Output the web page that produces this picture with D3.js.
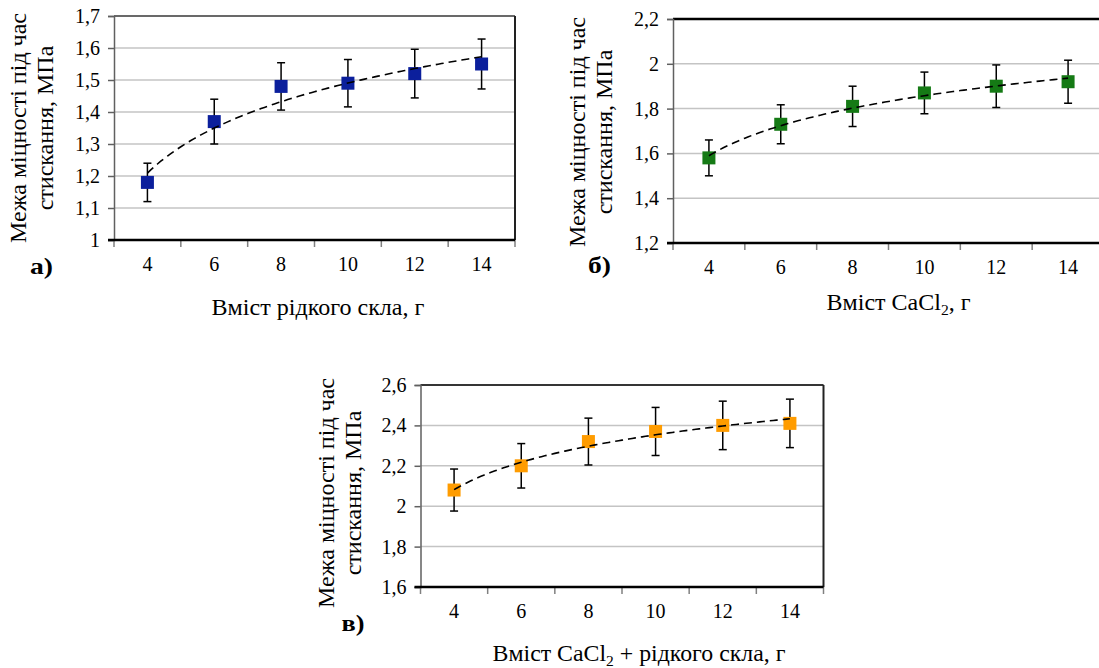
<!DOCTYPE html>
<html>
<head>
<meta charset="utf-8">
<script src="https://cdn.jsdelivr.net/npm/d3@7"></script>
<style>
  body { margin: 0; background: #fff; }
</style>
</head>
<body>
<div id="chart"></div>
<script>
// content of additive, g
const categories = [4, 6, 8, 10, 12, 14];

// compressive strength, MPa
const valuesA = [1.18, 1.37, 1.48, 1.49, 1.52, 1.55];
const errorsA = [0.06, 0.07, 0.074, 0.074, 0.076, 0.078];
const valuesB = [1.58, 1.73, 1.81, 1.87, 1.90, 1.92];
const errorsB = [0.08, 0.087, 0.09, 0.093, 0.095, 0.096];
const valuesC = [2.08, 2.20, 2.32, 2.37, 2.40, 2.41];
const errorsC = [0.104, 0.11, 0.116, 0.119, 0.12, 0.12];

const ticksA = [1, 1.1, 1.2, 1.3, 1.4, 1.5, 1.6, 1.7];
const ticksB = [1.2, 1.4, 1.6, 1.8, 2, 2.2];
const ticksC = [1.6, 1.8, 2, 2.2, 2.4, 2.6];

const width = 1099, height = 668;
const FONT = "Liberation Serif";

const svg = d3.select("#chart")
    .append("svg")
    .attr("width", width)
    .attr("height", height)
    .attr("font-family", FONT);

const fmt = d => (+d.toFixed(2)).toString().replace(".", ",");

// logarithmic trendline, like Excel does it (x = 1..n)
function logFit(values) {
    const xs = values.map((v, i) => Math.log(i + 1));
    const mx = d3.mean(xs), my = d3.mean(values);
    const b = d3.sum(xs, (x, i) => (x - mx) * (values[i] - my)) / d3.sum(xs, x => (x - mx) ** 2);
    const a = my - b * mx;
    return t => a + b * Math.log(t);
}

// stretch a text horizontally to the width it has in the picture
function fitWidth(text, cx, y, target) {
    const w = text.node().getComputedTextLength();
    text.attr("transform", `translate(${cx},${y}) scale(${target / w},1)`);
}

function drawPanel(p) {
    const g = svg.append("g");

    const x = d3.scaleBand().domain(categories).range([p.left, p.right]);
    const y = d3.scaleLinear().domain(d3.extent(p.ticks)).range([p.bottom, p.top]);

    // gridlines
    g.selectAll(".grid")
        .data(p.ticks.slice(1))
        .join("line")
        .attr("x1", p.left).attr("x2", p.right)
        .attr("y1", d => y(d)).attr("y2", d => y(d))
        .attr("stroke", "#c4c4c4")
        .attr("stroke-width", 1.5);

    // frame
    g.append("line")
        .attr("x1", p.left).attr("x2", p.right)
        .attr("y1", p.top).attr("y2", p.top)
        .attr("stroke", "#000").attr("stroke-width", p.topW);
    g.append("line")
        .attr("x1", p.right).attr("x2", p.right)
        .attr("y1", p.top).attr("y2", p.bottom)
        .attr("stroke", "#222").attr("stroke-width", 2);

    // y axis
    const yAxis = g.append("g")
        .attr("transform", `translate(${p.left},0)`)
        .call(d3.axisLeft(y).tickValues(p.ticks).tickFormat(fmt).tickSize(6).tickPadding(8))
        .attr("font-family", FONT)
        .attr("font-size", 20);
    yAxis.select(".domain").attr("stroke", "#606060").attr("stroke-width", 1.5);
    yAxis.selectAll(".tick line").attr("stroke", "#606060").attr("stroke-width", 1.5);
    yAxis.selectAll(".tick text").attr("fill", "#000");

    // x axis: ticks at band boundaries, labels at band centres
    const bounds = categories.map(c => x(c)).concat([x(categories[categories.length - 1]) + x.bandwidth()]);
    g.selectAll(".xtick")
        .data(bounds)
        .join("line")
        .attr("x1", d => d).attr("x2", d => d)
        .attr("y1", p.bottom).attr("y2", p.bottom + 7)
        .attr("stroke", "#808080").attr("stroke-width", 1.5);
    g.append("line")
        .attr("x1", p.left - 6).attr("x2", p.right)
        .attr("y1", p.bottom).attr("y2", p.bottom)
        .attr("stroke", "#000").attr("stroke-width", 2.5);
    g.selectAll(".xlab")
        .data(categories)
        .join("text")
        .attr("x", d => x(d) + x.bandwidth() / 2)
        .attr("y", p.bottom + 31)
        .attr("text-anchor", "middle")
        .attr("font-size", 20)
        .text(d => d);

    // error bars
    const eb = g.append("g").attr("stroke", "#000").attr("stroke-width", 1.5);
    p.values.forEach((v, i) => {
        const cx = x(categories[i]) + x.bandwidth() / 2;
        const e = p.errors[i];
        eb.append("line").attr("x1", cx).attr("x2", cx).attr("y1", y(v + e)).attr("y2", y(v - e));
        eb.append("line").attr("x1", cx - 4).attr("x2", cx + 4).attr("y1", y(v + e)).attr("y2", y(v + e));
        eb.append("line").attr("x1", cx - 4).attr("x2", cx + 4).attr("y1", y(v - e)).attr("y2", y(v - e));
    });

    // markers
    const ms = 13;
    g.selectAll(".pt")
        .data(p.values)
        .join("rect")
        .attr("x", (d, i) => x(categories[i]) + x.bandwidth() / 2 - ms / 2)
        .attr("y", d => y(d) - ms / 2)
        .attr("width", ms).attr("height", ms)
        .attr("fill", p.color);

    // trendline
    const f = logFit(p.values);
    const xt = d3.scaleLinear()
        .domain([1, categories.length])
        .range([x(categories[0]) + x.bandwidth() / 2, x(categories[categories.length - 1]) + x.bandwidth() / 2]);
    const ts = d3.range(1, categories.length + 0.001, 0.05);
    g.append("path")
        .datum(ts)
        .attr("d", d3.line().x(t => xt(t)).y(t => y(f(t))))
        .attr("fill", "none")
        .attr("stroke", "#000")
        .attr("stroke-width", 1.6)
        .attr("stroke-dasharray", "8,5");

    // y title (two lines)
    const yt = g.append("text")
        .attr("transform", `translate(${p.ytX},${p.ytY}) rotate(-90)`)
        .attr("text-anchor", "middle")
        .attr("font-size", 24);
    yt.append("tspan").attr("x", 0).attr("dy", 0).text("Межа міцності під час");
    yt.append("tspan").attr("x", 0).attr("dy", 27).text("стискання, МПа");

    // x title
    const xtl = g.append("text")
        .attr("text-anchor", "middle")
        .attr("font-size", 23);
    let shift = 0;
    p.xTitle.forEach(part => {
        if (part.sub) {
            xtl.append("tspan").attr("dy", 5).attr("font-size", 15).text(part.t);
            shift = -5;
        } else {
            xtl.append("tspan").attr("dy", shift).text(part.t);
            shift = 0;
        }
    });
    fitWidth(xtl, p.xtX, p.xtY, p.xtW);

    // panel letter
    const lt = g.append("text")
        .attr("text-anchor", "middle")
        .attr("font-size", 23)
        .attr("font-weight", "bold")
        .text(p.letter);
    fitWidth(lt, p.lx, p.ly, 23);
}

drawPanel({
    left: 114, right: 515, top: 16, bottom: 240, topW: 1.2,
    ticks: ticksA, values: valuesA, errors: errorsA, color: "#0b1f9c",
    ytX: 26, ytY: 128, xtX: 318, xtY: 315, xtW: 213,
    xTitle: [{ t: "Вміст рідкого скла, г" }],
    letter: "а)", lx: 41.5, ly: 274
});

drawPanel({
    left: 673, right: 1104, top: 19, bottom: 243, topW: 2.5,
    ticks: ticksB, values: valuesB, errors: errorsB, color: "#157a15",
    ytX: 584.5, ytY: 132, xtX: 898.6, xtY: 310, xtW: 144,
    xTitle: [{ t: "Вміст CaCl" }, { t: "2", sub: true }, { t: ", г" }],
    letter: "б)", lx: 599.5, ly: 273
});

drawPanel({
    left: 420.5, right: 823.5, top: 385, bottom: 587, topW: 1.5,
    ticks: ticksC, values: valuesC, errors: errorsC, color: "#ff9c00",
    ytX: 334, ytY: 493, xtX: 639, xtY: 661, xtW: 293,
    xTitle: [{ t: "Вміст CaCl" }, { t: "2", sub: true }, { t: " + рідкого скла, г" }],
    letter: "в)", lx: 353, ly: 631
});
</script>
</body>
</html>
